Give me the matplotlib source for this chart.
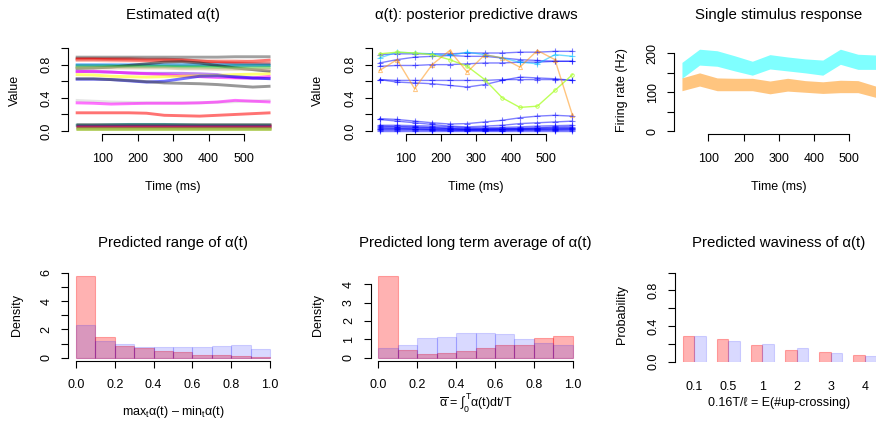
import matplotlib
matplotlib.use('Agg')
import matplotlib.pyplot as plt
import numpy as np

plt.rcParams['font.family'] = ['Liberation Sans', 'DejaVu Sans']
plt.rcParams['mathtext.fontset'] = 'custom'
plt.rcParams['mathtext.rm'] = 'Liberation Sans'
plt.rcParams['mathtext.it'] = 'Liberation Sans'
plt.rcParams['mathtext.bf'] = 'Liberation Sans:bold'

W, H = 876, 426

# ---------------- data ----------------
time_ms = [25, 75, 125, 175, 225, 275, 325, 375, 425, 475, 525, 575]

# Estimated alpha(t) curves
est_curves = [
    [0.89, 0.89, 0.89, 0.89, 0.89, 0.89, 0.89, 0.89, 0.89, 0.895, 0.895, 0.895],
    [0.87, 0.87, 0.87, 0.87, 0.865, 0.865, 0.86, 0.845, 0.83, 0.82, 0.815, 0.81],
    [0.865, 0.865, 0.86, 0.855, 0.85, 0.85, 0.85, 0.84, 0.835, 0.835, 0.84, 0.855],
    [0.85, 0.85, 0.845, 0.845, 0.845, 0.845, 0.845, 0.845, 0.845, 0.845, 0.84, 0.84],
    [0.80, 0.80, 0.80, 0.80, 0.80, 0.80, 0.80, 0.80, 0.80, 0.795, 0.795, 0.795],
    [0.79, 0.79, 0.79, 0.785, 0.785, 0.785, 0.785, 0.785, 0.785, 0.79, 0.79, 0.79],
    [0.755, 0.76, 0.77, 0.79, 0.81, 0.83, 0.835, 0.82, 0.79, 0.76, 0.74, 0.72],
    [0.77, 0.77, 0.775, 0.775, 0.775, 0.775, 0.77, 0.77, 0.765, 0.76, 0.76, 0.765],
    [0.76, 0.76, 0.76, 0.76, 0.76, 0.76, 0.75, 0.75, 0.745, 0.745, 0.745, 0.745],
    [0.72, 0.715, 0.71, 0.70, 0.695, 0.695, 0.695, 0.69, 0.68, 0.645, 0.635, 0.635],
    [0.715, 0.72, 0.71, 0.70, 0.69, 0.68, 0.665, 0.655, 0.645, 0.64, 0.64, 0.66],
    [0.68, 0.675, 0.66, 0.655, 0.65, 0.655, 0.66, 0.665, 0.67, 0.68, 0.685, 0.69],
    [0.625, 0.625, 0.62, 0.605, 0.59, 0.60, 0.63, 0.66, 0.665, 0.655, 0.64, 0.63],
    [0.63, 0.63, 0.62, 0.61, 0.595, 0.58, 0.575, 0.57, 0.56, 0.545, 0.53, 0.54],
    [0.37, 0.36, 0.35, 0.345, 0.34, 0.34, 0.34, 0.34, 0.345, 0.355, 0.36, 0.37],
    [0.34, 0.335, 0.325, 0.33, 0.335, 0.335, 0.335, 0.34, 0.35, 0.37, 0.36, 0.35],
    [0.22, 0.22, 0.22, 0.22, 0.215, 0.19, 0.185, 0.18, 0.19, 0.20, 0.21, 0.22],
    [0.085, 0.085, 0.085, 0.085, 0.085, 0.085, 0.085, 0.085, 0.085, 0.085, 0.085, 0.085],
    [0.075, 0.075, 0.075, 0.075, 0.075, 0.075, 0.075, 0.075, 0.075, 0.075, 0.075, 0.075],
    [0.07, 0.07, 0.075, 0.08, 0.08, 0.08, 0.075, 0.07, 0.07, 0.07, 0.07, 0.07],
    [0.06, 0.06, 0.06, 0.06, 0.06, 0.06, 0.06, 0.06, 0.06, 0.06, 0.06, 0.06],
    [0.05, 0.05, 0.05, 0.05, 0.05, 0.05, 0.05, 0.05, 0.05, 0.05, 0.05, 0.05],
    [0.04, 0.04, 0.04, 0.04, 0.04, 0.04, 0.04, 0.04, 0.04, 0.04, 0.04, 0.04],
    [0.03, 0.03, 0.03, 0.03, 0.03, 0.03, 0.03, 0.03, 0.03, 0.03, 0.03, 0.03],
    [0.025, 0.025, 0.025, 0.025, 0.025, 0.025, 0.025, 0.025, 0.025, 0.025, 0.025, 0.025],
]
est_colors = ['#555555', '#8B0000', 'red', 'salmon', 'dodgerblue', 'darkcyan',
              '#1a1a1a', 'limegreen', 'tan', 'blueviolet', 'magenta', 'yellow',
              'blue', '#444444', 'lightgray', 'magenta', 'red',
              '#555555', '#8B0000', 'teal', 'purple', 'crimson', 'olivedrab',
              'darkkhaki', 'yellowgreen']

# Posterior predictive draws
draw_blue = [
    [0.92, 0.93, 0.93, 0.93, 0.93, 0.94, 0.94, 0.94, 0.95, 0.95, 0.96, 0.96],
    [0.82, 0.86, 0.89, 0.90, 0.91, 0.90, 0.90, 0.88, 0.86, 0.85, 0.84, 0.84],
    [0.78, 0.79, 0.79, 0.80, 0.80, 0.81, 0.82, 0.82, 0.83, 0.83, 0.84, 0.84],
    [0.62, 0.61, 0.61, 0.61, 0.61, 0.61, 0.61, 0.62, 0.62, 0.62, 0.62, 0.61],
    [0.62, 0.59, 0.58, 0.57, 0.55, 0.53, 0.56, 0.61, 0.65, 0.64, 0.63, 0.61],
    [0.15, 0.14, 0.12, 0.10, 0.085, 0.09, 0.11, 0.13, 0.16, 0.18, 0.19, 0.18],
    [0.14, 0.12, 0.10, 0.08, 0.06, 0.05, 0.06, 0.07, 0.09, 0.10, 0.11, 0.12],
    [0.07, 0.07, 0.065, 0.06, 0.05, 0.04, 0.04, 0.045, 0.05, 0.06, 0.065, 0.07],
    [0.06, 0.055, 0.05, 0.045, 0.03, 0.02, 0.025, 0.03, 0.035, 0.04, 0.05, 0.055],
    [0.05, 0.05, 0.045, 0.04, 0.035, 0.03, 0.03, 0.03, 0.03, 0.035, 0.04, 0.04],
    [0.04, 0.035, 0.03, 0.03, 0.025, 0.02, 0.02, 0.02, 0.025, 0.03, 0.03, 0.035],
    [0.03, 0.03, 0.025, 0.02, 0.02, 0.015, 0.015, 0.02, 0.02, 0.02, 0.025, 0.025],
    [0.02, 0.02, 0.02, 0.015, 0.01, 0.01, 0.01, 0.01, 0.015, 0.015, 0.015, 0.02],
    [0.01, 0.01, 0.01, 0.01, 0.005, 0.005, 0.005, 0.005, 0.01, 0.01, 0.01, 0.01],
    [0.003, 0.003, 0.003, 0.003, 0.003, 0.003, 0.003, 0.003, 0.003, 0.003, 0.003, 0.003],
]
draw_skyblue = [0.88, 0.95, 0.94, 0.93, 0.91, 0.95, 0.92, 0.88, 0.83, 0.81, 0.92, 0.90]
draw_green = [0.93, 0.95, 0.94, 0.92, 0.86, 0.78, 0.62, 0.40, 0.285, 0.30, 0.49, 0.68]
draw_orange = [0.73, 0.86, 0.51, 0.80, 0.97, 0.71, 0.92, 0.88, 0.77, 0.97, 0.86, 0.19]

# Single stimulus response bands (Hz)
cyan_upper = [177, 211, 207, 194, 180, 197, 191, 186, 183, 211, 198, 196]
cyan_lower = [136, 170, 167, 155, 144, 160, 155, 150, 144, 172, 159, 159]
orange_upper = [137, 150, 137, 136, 136, 129, 136, 130, 127, 131, 130, 116]
orange_lower = [104, 116, 104, 104, 104, 96, 103, 100, 97, 99, 99, 87]

# Histograms
bin_left = [0.0, 0.1, 0.2, 0.3, 0.4, 0.5, 0.6, 0.7, 0.8, 0.9]
range_red = [5.76, 1.44, 0.80, 0.70, 0.50, 0.40, 0.22, 0.20, 0.15, 0.08]
range_blue = [2.30, 1.20, 1.00, 0.78, 0.78, 0.75, 0.78, 0.80, 0.87, 0.60]
avg_red = [4.45, 0.42, 0.18, 0.24, 0.36, 0.51, 0.69, 0.69, 1.10, 1.18]
avg_blue = [0.55, 0.69, 1.09, 1.13, 1.33, 1.33, 1.29, 1.02, 0.82, 0.69]

# Waviness
wav_labels = ['0.1', '0.5', '1', '2', '3', '4']
wav_red = [0.288, 0.251, 0.191, 0.127, 0.112, 0.071]
wav_blue = [0.288, 0.236, 0.202, 0.157, 0.097, 0.064]

# ---------------- styling helpers ----------------
FS = 9.0
TFS = 10.8

fig = plt.figure(figsize=(W / 100, H / 100), dpi=100)


def make_ax(x0, x1, ytop, ybot):
    ax = fig.add_axes([x0 / W, 1 - ybot / H, (x1 - x0) / W, (ybot - ytop) / H])
    ax.patch.set_alpha(0)
    for s in ['top', 'right']:
        ax.spines[s].set_visible(False)
    for s in ['left', 'bottom']:
        ax.spines[s].set_linewidth(0.8)
    ax.tick_params(direction='out', length=4.8, width=0.8, labelsize=FS)
    ax.tick_params(axis='x', pad=8.3)
    ax.tick_params(axis='y', pad=6.4)
    return ax


def set_yticks(ax, ticks, labels):
    ax.set_yticks(ticks)
    ax.set_yticklabels(labels, rotation=90, va='center')
    ax.spines['left'].set_bounds(ticks[0], ticks[-1])


def set_xticks(ax, ticks, labels):
    ax.set_xticks(ticks)
    ax.set_xticklabels(labels)
    ax.spines['bottom'].set_bounds(ticks[0], ticks[-1])


def ftext(x, y, s, size=FS, rot=0):
    fig.text(x / W, 1 - y / H, s, ha='center', va='center', fontsize=size, rotation=rot)


yt01 = [0.0, 0.2, 0.4, 0.6, 0.8, 1.0]
yl01 = ['0.0', '', '0.4', '', '0.8', '']
xt_time = [100, 200, 300, 400, 500]
xl_time = ['100', '200', '300', '400', '500']

# ---------------- top-left ----------------
ax = make_ax(67.9, 278.3, 44.7, 134.4)
for c, col in zip(est_curves, est_colors):
    ax.plot(time_ms, c, color=col, alpha=0.55, lw=2.1, solid_capstyle='butt')
ax.set_xlim(3, 597)
ax.set_ylim(-0.04, 1.04)
set_yticks(ax, yt01, yl01)
set_xticks(ax, xt_time, xl_time)
ftext(173, 15, 'Estimated α(t)', TFS)
ftext(173, 187, 'Time (ms)')
ftext(15, 90, 'Value', rot=90)

# ---------------- top-middle ----------------
ax = make_ax(371.8, 580.2, 44.7, 134.4)
for c in draw_blue:
    ax.plot(time_ms, c, color='blue', alpha=0.5, lw=1.0, marker='+', ms=4, mew=0.8)
ax.plot(time_ms, draw_skyblue, color='deepskyblue', alpha=0.55, lw=1.0, marker='+', ms=4, mew=0.8)
ax.plot(time_ms, draw_green, color='greenyellow', alpha=0.8, lw=1.0, marker='o', ms=2.5,
        mfc='none', mew=0.7)
ax.plot(time_ms, draw_orange, color='darkorange', alpha=0.5, lw=1.0, marker='^', ms=3,
        mfc='none', mew=0.7)
ax.set_xlim(3, 597)
ax.set_ylim(-0.04, 1.04)
set_yticks(ax, yt01, yl01)
set_xticks(ax, xt_time, xl_time)
ftext(476, 15, 'α(t): posterior predictive draws', TFS)
ftext(476, 187, 'Time (ms)')
ftext(318.3, 90, 'Value', rot=90)

# ---------------- top-right ----------------
ax = make_ax(674.2, 883.3, 44.7, 134.4)
ax.fill_between(time_ms, orange_lower, orange_upper, color='darkorange', alpha=0.5, lw=0)
ax.fill_between(time_ms, cyan_lower, cyan_upper, color='cyan', alpha=0.5, lw=0)
ax.set_xlim(3, 597)
ax.set_ylim(-8.6, 222.6)
set_yticks(ax, [0, 50, 100, 150, 200], ['0', '', '100', '', '200'])
set_xticks(ax, xt_time, xl_time)
ftext(778.7, 15, 'Single stimulus response', TFS)
ftext(778.7, 187, 'Time (ms)')
ftext(621.7, 90, 'Firing rate (Hz)', rot=90)

red_fc = (1, 0, 0, 0.3)
blue_fc = (0, 0, 1, 0.15)
xt_hist = [0.0, 0.2, 0.4, 0.6, 0.8, 1.0]
xl_hist = ['0.0', '0.2', '0.4', '0.6', '0.8', '1.0']

# ---------------- bottom-left ----------------
ax = make_ax(68.2, 277.8, 269.3, 361.1)
ax.bar(bin_left, range_red, width=0.1, align='edge', color=red_fc, edgecolor=red_fc, lw=0.8)
ax.bar(bin_left, range_blue, width=0.1, align='edge', color=blue_fc, edgecolor=blue_fc, lw=0.8)
ax.set_xlim(-0.04, 1.04)
ax.set_ylim(-0.24, 6.24)
set_yticks(ax, [0, 1, 2, 3, 4, 5, 6], ['0', '', '2', '', '4', '', '6'])
set_xticks(ax, xt_hist, xl_hist)
ftext(173, 242.7, 'Predicted range of α(t)', TFS)
ftext(173, 411.7, r'max$_t$α(t) – min$_t$α(t)')
ftext(16.7, 315, 'Density', rot=90)

# ---------------- bottom-middle ----------------
ax = make_ax(370.5, 580.5, 269.3, 361.1)
ax.bar(bin_left, avg_red, width=0.1, align='edge', color=red_fc, edgecolor=red_fc, lw=0.8)
ax.bar(bin_left, avg_blue, width=0.1, align='edge', color=blue_fc, edgecolor=blue_fc, lw=0.8)
ax.set_xlim(-0.04, 1.04)
ax.set_ylim(-0.185, 4.815)
set_yticks(ax, [0, 1, 2, 3, 4], ['0', '1', '2', '3', '4'])
set_xticks(ax, xt_hist, xl_hist)
ftext(475.5, 242.7, 'Predicted long term average of α(t)', TFS)
ftext(475.5, 403, r'$\overline{\alpha}$ = $\int_0^T$α(t)dt/T')
ftext(318.3, 315, 'Density', rot=90)

# ---------------- bottom-right ----------------
ax = make_ax(675, 884, 269.3, 361.7)
grp = np.arange(len(wav_labels))
ax.bar(1 + 3 * grp, wav_red, width=1, align='edge', color=red_fc, edgecolor=red_fc, lw=0.8)
ax.bar(2 + 3 * grp, wav_blue, width=1, align='edge', color=blue_fc, edgecolor=blue_fc, lw=0.8)
ax.set_xlim(0.32, 18.68)
ax.set_ylim(0, 1.038)
set_yticks(ax, yt01, yl01)
ax.spines['bottom'].set_visible(False)
ax.set_xticks(2 + 3 * grp)
ax.set_xticklabels(wav_labels)
ax.tick_params(axis='x', length=0, pad=14.0)
ftext(778.7, 242.7, 'Predicted waviness of α(t)', TFS)
ftext(778.7, 403.3, '0.16T/ℓ = E(#up-crossing)')
ftext(621.7, 315, 'Probability', rot=90)

fig.savefig('out.png', dpi=100)
